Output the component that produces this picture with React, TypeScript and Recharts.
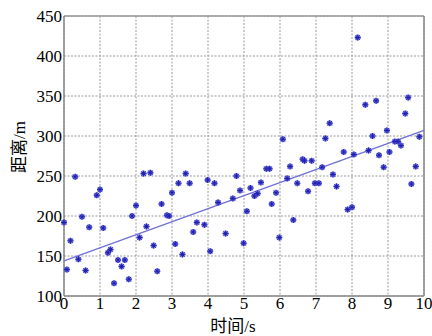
import React from 'react'
import {
  CartesianGrid,
  Line,
  ReferenceLine,
  Scatter,
  ComposedChart,
  XAxis,
  YAxis,
} from 'recharts'

// ─── Data ───────────────────────────────────────────────────────────────────────
const timeS = [
  0.0, 0.08, 0.18, 0.31, 0.4, 0.5, 0.6, 0.7, 0.91, 1.0,
  1.09, 1.22, 1.29, 1.39, 1.5, 1.6, 1.69, 1.8, 1.89, 2.0,
  2.1, 2.21, 2.29, 2.4, 2.49, 2.59, 2.71, 2.86, 2.92, 3.0,
  3.09, 3.18, 3.29, 3.38, 3.49, 3.59, 3.69, 3.9, 3.99, 4.06,
  4.18, 4.28, 4.49, 4.69, 4.79, 4.89, 4.99, 5.08, 5.18, 5.29,
  5.38, 5.47, 5.62, 5.71, 5.77, 5.89, 5.98, 6.08, 6.2, 6.28,
  6.37, 6.48, 6.63, 6.68, 6.78, 6.88, 6.97, 7.08, 7.17, 7.26,
  7.38, 7.47, 7.57, 7.77, 7.88, 8.0, 8.05, 8.16, 8.37, 8.46,
  8.57, 8.67, 8.75, 8.88, 8.97, 9.04, 9.19, 9.28, 9.36, 9.48,
  9.56, 9.65, 9.77, 9.87,
]
const distM = [
  192, 133, 169, 249, 146, 199, 132, 186, 226, 233,
  185, 154, 158, 116, 145, 137, 145, 121, 200, 213,
  173, 253, 187, 254, 163, 131, 215, 201, 200, 229,
  165, 241, 152, 253, 241, 180, 192, 189, 245, 156,
  241, 217, 178, 222, 250, 232, 166, 206, 235, 225,
  228, 242, 259, 259, 215, 229, 173, 296, 247, 262,
  195, 241, 271, 269, 231, 269, 241, 241, 261, 297,
  316, 252, 237, 280, 208, 211, 277, 423, 339, 282,
  300, 344, 276, 261, 307, 280, 293, 293, 288, 328,
  348, 240, 262, 299,
]
const fitT = [0, 10]
const fitD = [144, 307]
const xTicks = [0, 1, 2, 3, 4, 5, 6, 7, 8, 9, 10]
const yTicks = [100, 150, 200, 250, 300, 350, 400, 450]

const points = timeS.map((t, i) => ({ t, d: distM[i] }))
const fit = fitT.map((t, i) => ({ t, f: fitD[i] }))

const numFont = 'Liberation Serif'
const cjkFont = 'Liberation Serif, Noto Sans CJK SC'

// ─── Asterisk marker ────────────────────────────────────────────────────────────
const Star = ({ cx, cy }: any) => {
  if (cx == null || cy == null) return null
  const r = 3
  const k = r * 0.7
  return (
    <g>
      <circle cx={cx} cy={cy} r={3} fill="#5050dc" fillOpacity={0.75} />
      <g stroke="#1e1eb0" strokeWidth={1}>
        <line x1={cx - r} y1={cy} x2={cx + r} y2={cy} />
        <line x1={cx} y1={cy - r} x2={cx} y2={cy + r} />
        <line x1={cx - k} y1={cy - k} x2={cx + k} y2={cy + k} />
        <line x1={cx - k} y1={cy + k} x2={cx + k} y2={cy - k} />
      </g>
    </g>
  )
}

const YLabel = ({ viewBox }: any) => {
  const x = 19
  const y = viewBox.y + viewBox.height / 2 - 9
  return (
    <text
      x={x}
      y={y}
      transform={`rotate(-90, ${x}, ${y})`}
      textAnchor="middle"
      dominantBaseline="central"
      fontSize={17}
      fontFamily={cjkFont}
      fill="#000"
    >
      距离/m
    </text>
  )
}

const XLabel = ({ viewBox }: any) => (
  <text
    x={viewBox.x + viewBox.width / 2 - 11}
    y={326}
    textAnchor="middle"
    dominantBaseline="central"
    fontSize={17}
    fontFamily={cjkFont}
    fill="#000"
  >
    时间/s
  </text>
)

// tick renderer so the font goes straight onto the <text>
const Tick = ({ x, y, payload, textAnchor, verticalAnchor }: any) => {
  const base = verticalAnchor === 'start' ? 'hanging' : 'central'
  return (
    <text
      x={x}
      y={y}
      textAnchor={textAnchor}
      dominantBaseline={base}
      fontSize={17}
      fontFamily={numFont}
      fill="#000"
    >
      {payload.value}
    </text>
  )
}

export default function App() {
  return (
    <div style={{ position: 'absolute', left: 0, top: 0, background: '#fff' }}>
      <ComposedChart
        width={432}
        height={336}
        margin={{ top: 16, right: 8, bottom: 0, left: 0 }}
      >
        <CartesianGrid stroke="#9a9a9a" strokeDasharray="2 1.5" />
        <XAxis
          dataKey="t"
          type="number"
          domain={[0, 10]}
          ticks={xTicks}
          height={40}
          tickSize={0}
          tickMargin={1}
          axisLine={{ stroke: '#888', strokeWidth: 1.5 }}
          tick={<Tick />}
          label={<XLabel />}
        />
        <YAxis
          type="number"
          domain={[100, 450]}
          ticks={yTicks}
          width={64}
          tickSize={0}
          tickMargin={2}
          axisLine={{ stroke: '#888', strokeWidth: 1.5 }}
          tick={<Tick />}
          label={<YLabel />}
        />
        <ReferenceLine y={450} stroke="#999" strokeWidth={1.5} />
        <ReferenceLine x={10} stroke="#888" strokeWidth={1.5} />
        <Scatter
          data={points}
          dataKey="d"
          shape={<Star />}
          isAnimationActive={false}
        />
        <Line
          data={fit}
          dataKey="f"
          type="linear"
          stroke="#7070d8"
          strokeWidth={1.3}
          dot={false}
          activeDot={false}
          isAnimationActive={false}
        />
      </ComposedChart>
    </div>
  )
}
